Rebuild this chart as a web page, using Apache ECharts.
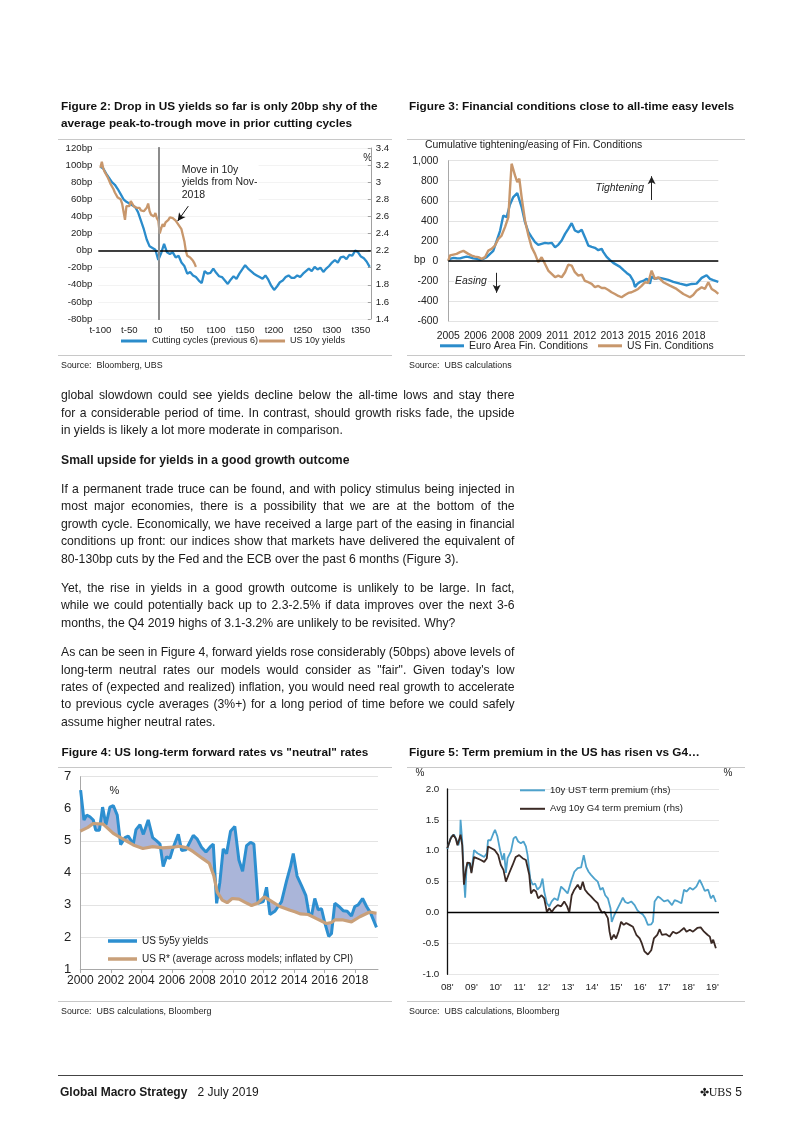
<!DOCTYPE html>
<html><head><meta charset="utf-8">
<script src="https://cdn.jsdelivr.net/npm/echarts@6/dist/echarts.min.js"></script>
<style>
html,body{margin:0;padding:0;background:#fff;}
#page{position:relative;width:802px;height:1133px;overflow:hidden;font-family:'Liberation Sans',Arial,sans-serif;color:#1a1a1a;}
#chart{position:absolute;left:0;top:0;width:802px;height:1133px;}
.t{position:absolute;white-space:nowrap;}
.title{font-weight:bold;font-size:11.8px;line-height:16.6px;color:#111;}
.src{font-size:8.9px;line-height:12px;color:#222;}
.rule{position:absolute;height:0;border-top:1px solid #c8c8c8;}
#body{position:absolute;left:61px;top:387.3px;width:453.5px;font-size:12.2px;line-height:17.4px;color:#1a1a1a;}
#body .l,#body .e{white-space:nowrap;text-align:left;}
#body .h{font-weight:bold;}
#body .gap{height:12px;}
</style></head>
<body>
<div id="page">
<div id="chart"></div>

<div class="t title" style="left:61px;top:98.4px;">Figure 2: Drop in US yields so far is only 20bp shy of the<br>average peak-to-trough move in prior cutting cycles</div>
<div class="t title" style="left:409px;top:98.4px;">Figure 3: Financial conditions close to all-time easy levels</div>
<div class="rule" style="left:58px;top:138.5px;width:334px;"></div>
<div class="rule" style="left:407px;top:138.5px;width:338px;"></div>
<div class="rule" style="left:58px;top:355px;width:334px;"></div>
<div class="rule" style="left:407px;top:355px;width:338px;"></div>
<div class="t src" style="left:61px;top:358.5px;">Source:&nbsp; Bloomberg, UBS</div>
<div class="t src" style="left:409px;top:358.5px;">Source:&nbsp; UBS calculations</div>

<div id="body">
<div class="l">global slowdown could see yields decline below the all-time lows and stay there</div>
<div class="l">for a considerable period of time. In contrast, should growth risks fade, the upside</div>
<div class="e">in yields is likely a lot more moderate in comparison.</div>
<div class="gap"></div>
<div class="e h">Small upside for yields in a good growth outcome</div>
<div class="gap"></div>
<div class="l">If a permanent trade truce can be found, and with policy stimulus being injected in</div>
<div class="l">most major economies, there is a possibility that we are at the bottom of the</div>
<div class="l">growth cycle. Economically, we have received a large part of the easing in financial</div>
<div class="l">conditions up front: our indices show that markets have delivered the equivalent of</div>
<div class="e">80-130bp cuts by the Fed and the ECB over the past 6 months (Figure 3).</div>
<div class="gap"></div>
<div class="l">Yet, the rise in yields in a good growth outcome is unlikely to be large. In fact,</div>
<div class="l">while we could potentially back up to 2.3-2.5% if data improves over the next 3-6</div>
<div class="e">months, the Q4 2019 highs of 3.1-3.2% are unlikely to be revisited. Why?</div>
<div class="gap"></div>
<div class="l">As can be seen in Figure 4, forward yields rose considerably (50bps) above levels of</div>
<div class="l">long-term neutral rates our models would consider as "fair". Given today's low</div>
<div class="l">rates of (expected and realized) inflation, you would need real growth to accelerate</div>
<div class="l">to previous cycle averages (3%+) for a long period of time before we could safely</div>
<div class="e">assume higher neutral rates.</div>
</div>

<div class="t title" style="left:61.5px;top:743.7px;">Figure 4: US long-term forward rates vs "neutral" rates</div>
<div class="t title" style="left:409px;top:743.7px;">Figure 5: Term premium in the US has risen vs G4…</div>
<div class="rule" style="left:58px;top:767px;width:334px;"></div>
<div class="rule" style="left:407px;top:767px;width:338px;"></div>
<div class="rule" style="left:58px;top:1001px;width:334px;"></div>
<div class="rule" style="left:407px;top:1001px;width:338px;"></div>
<div class="t src" style="left:61px;top:1005px;">Source:&nbsp; UBS calculations, Bloomberg</div>
<div class="t src" style="left:409px;top:1005px;">Source:&nbsp; UBS calculations, Bloomberg</div>

<div style="position:absolute;left:58px;top:1075px;width:685px;border-top:1px solid #444;"></div>
<div class="t" style="left:60px;top:1084px;font-size:12px;line-height:16px;"><b>Global Macro Strategy</b>&nbsp;&nbsp; 2 July 2019</div>
<div class="t" style="right:60px;top:1084px;font-size:12px;line-height:16px;"><span style="font-size:11px;">✤</span><span style="font-family:'Liberation Serif',serif;">UBS</span> 5</div>
</div>

<script>
// justify each full body line to the column width
(function () {
  const W = 453.5;
  document.querySelectorAll('#body .l').forEach(el => {
    const span = document.createElement('span');
    span.textContent = el.textContent;
    el.textContent = '';
    el.appendChild(span);
    const natural = span.getBoundingClientRect().width;
    const spaces = (span.textContent.match(/ /g) || []).length;
    if (spaces) span.style.wordSpacing = ((W - natural) / spaces) + 'px';
  });
})();

// ---------- Figure 2 ----------
const fig2TickPos = [-100,-50,0,50,100,150,200,250,300,350];
// cutting cycles average, bp, every 5 days from t-100
const cyclesBp = [98,96,90,85,80,77,72,66,60,57,55,53,51,45,35,25,13,5,3,1,
  -11,-3,8,-2,-4,-2,-8,-6,-14,-18,-27,-25,-29,-31,-35,-38,-24,-27,-26,-21,
  -26,-30,-31,-35,-39,-34,-30,-33,-27,-22,-17,-21,-24,-27,-29,-31,-33,-29,-34,-41,
  -46,-42,-37,-35,-31,-29,-32,-32,-29,-31,-27,-24,-21,-24,-19,-22,-20,-25,-21,-18,
  -14,-11,-14,-8,-7,-10,-5,-6,0,-2,-7,-9,-13,-19];
// US 10y yield (%), every 2.5 days from t-100 (Nov-2018 start)
const us10y = [3.17,3.24,3.16,3.12,3.10,3.06,3.04,2.98,3.00,2.92,2.88,2.86,2.82,2.84,2.80,2.75,2.76,2.56,2.72,2.74,
  2.72,2.78,2.76,2.72,2.74,2.70,2.68,2.70,2.67,2.69,2.66,2.68,2.70,2.75,2.66,2.62,2.63,2.60,2.64,2.58,
  2.55,2.40,2.46,2.51,2.48,2.53,2.52,2.56,2.59,2.60,2.58,2.59,2.55,2.54,2.50,2.48,2.45,2.38,2.31,2.20,
  2.14,2.16,2.12,2.10,2.08,2.05,2.01];

// ---------- Figure 3 ----------
const fig3LabelPos = [2005.27,2006.71,2008.16,2009.60,2011.05,2012.49,2013.94,2015.38,2016.83,2018.27];
const fig3Labels = ['2005','2006','2008','2009','2011','2012','2013','2015','2016','2018'];
const euroFci = [[2005.27,0],[2005.36,20],[2005.54,30],[2005.71,27],[2005.89,25],[2006.07,35],[2006.24,43],[2006.42,35],[2006.59,25],[2006.77,20],[2006.95,10],[2007.12,20],[2007.30,37],[2007.48,70],[2007.65,100],[2007.83,200],[2008.01,300],[2008.18,453],[2008.36,437],[2008.53,560],[2008.71,637],[2008.92,677],[2009.15,537],[2009.33,387],[2009.51,287],[2009.68,237],[2009.86,187],[2010.03,160],[2010.21,170],[2010.39,180],[2010.56,175],[2010.74,180],[2010.92,137],[2011.09,160],[2011.27,203],[2011.45,270],[2011.62,320],[2011.80,377],[2011.97,303],[2012.15,287],[2012.33,310],[2012.50,237],[2012.68,153],[2012.86,140],[2013.03,130],[2013.21,107],[2013.39,120],[2013.47,90],[2013.65,40],[2013.83,7],[2014.00,-20],[2014.18,-40],[2014.36,-60],[2014.53,-90],[2014.71,-120],[2014.88,-143],[2015.06,-200],[2015.15,-260],[2015.27,-230],[2015.41,-210],[2015.59,-200],[2015.77,-177],[2015.94,-227],[2016.03,-157],[2016.21,-180],[2016.29,-193],[2016.47,-170],[2016.65,-177],[2016.91,-190],[2017.18,-210],[2017.53,-227],[2017.88,-243],[2018.15,-230],[2018.41,-227],[2018.68,-170],[2018.94,-143],[2019.12,-180],[2019.29,-193],[2019.56,-210]];
const usFci = [[2005.27,0],[2005.36,55],[2005.54,63],[2005.71,70],[2005.89,87],[2006.07,100],[2006.15,110],[2006.33,70],[2006.51,53],[2006.68,43],[2006.86,37],[2007.04,20],[2007.21,37],[2007.39,103],[2007.56,120],[2007.74,153],[2007.92,220],[2008.09,253],[2008.27,337],[2008.45,437],[2008.53,703],[2008.62,970],[2008.71,987],[2008.80,853],[2008.92,787],[2009.03,820],[2009.15,637],[2009.33,403],[2009.51,253],[2009.68,137],[2009.86,70],[2010.03,-13],[2010.21,37],[2010.39,-30],[2010.56,-97],[2010.74,-130],[2010.92,-163],[2011.09,-147],[2011.27,-163],[2011.45,-113],[2011.62,-37],[2011.80,-47],[2011.97,-113],[2012.15,-147],[2012.33,-137],[2012.50,-200],[2012.68,-213],[2012.86,-230],[2013.03,-263],[2013.21,-250],[2013.39,-270],[2013.56,-270],[2013.74,-290],[2013.91,-313],[2014.09,-330],[2014.27,-350],[2014.44,-363],[2014.62,-340],[2014.80,-320],[2014.97,-313],[2015.15,-297],[2015.32,-280],[2015.50,-250],[2015.68,-213],[2015.85,-220],[2016.03,-97],[2016.21,-180],[2016.38,-163],[2016.65,-213],[2017.00,-247],[2017.35,-280],[2017.71,-330],[2018.06,-363],[2018.23,-340],[2018.41,-297],[2018.68,-263],[2018.85,-280],[2019.03,-213],[2019.21,-280],[2019.38,-300],[2019.56,-330]];

// ---------- Figure 4 ----------
const us5y5y = [[2000.02,6.58],[2000.24,5.65],[2000.42,5.8],[2000.63,5.75],[2000.85,5.65],[2001.01,5.33],[2001.25,5.33],[2001.46,6.05],[2001.68,5.5],[2001.94,6.05],[2002.16,6.1],[2002.42,5.8],[2002.64,4.88],[2002.93,5.1],[2003.14,5.15],[2003.47,4.9],[2003.65,5.35],[2003.91,5.5],[2004.13,5.2],[2004.45,5.65],[2004.74,5.1],[2005.0,5.0],[2005.22,4.9],[2005.43,4.2],[2005.65,4.5],[2005.87,4.45],[2006.09,4.8],[2006.42,5.2],[2006.64,4.7],[2006.92,4.72],[2007.4,5.17],[2007.66,5.05],[2007.94,4.8],[2008.23,4.65],[2008.49,4.8],[2008.71,4.9],[2008.93,3.05],[2009.14,3.7],[2009.36,4.75],[2009.58,4.6],[2009.84,5.3],[2010.12,5.45],[2010.39,4.4],[2010.63,4.05],[2010.89,4.85],[2011.15,4.95],[2011.37,4.9],[2011.65,3.05],[2011.98,3.1],[2012.2,3.55],[2012.42,2.7],[2012.74,2.8],[2012.96,2.95],[2013.18,3.1],[2013.51,3.75],[2013.77,4.2],[2013.95,4.6],[2014.2,3.9],[2014.49,3.6],[2014.77,3.3],[2014.97,2.75],[2015.14,2.65],[2015.36,3.2],[2015.58,2.85],[2015.8,2.88],[2016.01,2.45],[2016.27,2.02],[2016.45,2.1],[2016.67,3.05],[2016.95,2.95],[2017.22,2.82],[2017.48,2.8],[2017.76,2.65],[2017.98,2.95],[2018.2,3.0],[2018.49,3.2],[2018.75,2.95],[2019.01,2.75],[2019.4,2.3]];
const usRStar = [[2000.0,5.3],[2000.5,5.42],[2000.85,5.54],[2001.5,5.52],[2002.16,5.23],[2002.8,5.05],[2003.47,4.87],[2004.1,4.76],[2004.74,4.82],[2005.4,4.78],[2006.09,4.8],[2006.5,4.83],[2007.0,4.78],[2007.4,4.66],[2008.0,4.45],[2008.45,4.3],[2008.75,3.9],[2008.97,3.4],[2009.3,3.15],[2009.62,3.07],[2009.95,3.2],[2010.4,3.18],[2010.8,3.08],[2011.22,2.98],[2011.6,3.05],[2012.05,3.25],[2012.4,3.15],[2013.07,2.95],[2013.7,2.84],[2014.1,2.78],[2014.4,2.72],[2014.93,2.7],[2015.47,2.57],[2016.12,2.42],[2016.45,2.45],[2016.67,2.53],[2017.22,2.53],[2017.76,2.47],[2018.31,2.63],[2018.96,2.78],[2019.4,2.74]];

// ---------- Figure 5 ----------
const ustTermPremium = [[2008.00,1.03],[2008.07,1.12],[2008.17,1.23],[2008.28,1.26],[2008.39,1.17],[2008.46,1.09],[2008.53,1.2],[2008.55,1.5],[2008.62,1.15],[2008.69,0.55],[2008.74,0.24],[2008.80,0.74],[2008.90,0.81],[2009.00,0.66],[2009.11,1.01],[2009.25,0.96],[2009.39,0.93],[2009.53,0.9],[2009.64,0.96],[2009.69,1.17],[2009.80,1.17],[2009.91,1.28],[2009.98,1.34],[2010.08,1.23],[2010.19,1.01],[2010.29,0.85],[2010.36,0.96],[2010.43,0.64],[2010.50,0.88],[2010.64,0.99],[2010.75,1.2],[2010.84,1.23],[2010.94,1.15],[2011.05,1.12],[2011.16,1.15],[2011.26,1.07],[2011.33,0.93],[2011.44,0.55],[2011.54,0.45],[2011.64,0.47],[2011.74,0.37],[2011.86,0.42],[2011.95,0.55],[2012.02,0.34],[2012.13,0.15],[2012.23,0.1],[2012.33,0.18],[2012.44,0.23],[2012.58,0.2],[2012.72,0.42],[2012.85,0.37],[2012.99,0.31],[2013.13,0.5],[2013.27,0.66],[2013.41,0.72],[2013.55,0.73],[2013.66,0.93],[2013.76,0.74],[2013.86,0.66],[2013.96,0.61],[2014.10,0.55],[2014.24,0.5],[2014.35,0.37],[2014.45,0.4],[2014.55,0.28],[2014.66,0.23],[2014.77,0.07],[2014.82,-0.15],[2014.93,-0.04],[2015.07,0.07],[2015.21,0.18],[2015.28,0.24],[2015.38,0.17],[2015.49,0.15],[2015.63,0.18],[2015.77,0.12],[2015.88,0.04],[2015.98,0.0],[2016.11,-0.03],[2016.21,-0.09],[2016.32,-0.2],[2016.46,-0.19],[2016.53,-0.15],[2016.60,0.18],[2016.74,0.26],[2016.85,0.23],[2016.99,0.18],[2017.15,0.2],[2017.32,0.12],[2017.43,0.2],[2017.57,0.18],[2017.71,0.15],[2017.82,0.37],[2017.92,0.34],[2018.06,0.4],[2018.19,0.37],[2018.33,0.42],[2018.47,0.53],[2018.57,0.45],[2018.68,0.35],[2018.82,0.37],[2018.93,0.23],[2019.03,0.28],[2019.14,0.17]];
const g4TermPremium = [[2008.00,1.04],[2008.14,1.2],[2008.25,1.26],[2008.35,1.2],[2008.42,1.09],[2008.49,1.12],[2008.55,1.26],[2008.62,1.09],[2008.69,0.45],[2008.76,0.66],[2008.83,0.81],[2008.94,0.8],[2009.00,0.64],[2009.11,0.9],[2009.22,0.88],[2009.39,0.85],[2009.53,0.82],[2009.64,0.88],[2009.69,1.07],[2009.83,1.04],[2009.97,1.01],[2010.11,0.93],[2010.22,0.77],[2010.33,0.69],[2010.43,0.5],[2010.57,0.64],[2010.71,0.77],[2010.84,0.9],[2010.98,0.93],[2011.12,0.88],[2011.26,0.85],[2011.40,0.61],[2011.47,0.31],[2011.58,0.37],[2011.68,0.34],[2011.77,0.23],[2011.91,0.28],[2012.02,0.23],[2012.13,0.01],[2012.23,0.07],[2012.33,0.01],[2012.44,0.07],[2012.58,0.12],[2012.72,0.1],[2012.85,0.18],[2012.97,0.1],[2013.06,0.0],[2013.16,0.28],[2013.27,0.37],[2013.41,0.45],[2013.52,0.37],[2013.62,0.5],[2013.71,0.37],[2013.83,0.31],[2013.96,0.26],[2014.10,0.2],[2014.24,0.15],[2014.31,0.07],[2014.41,0.0],[2014.52,0.01],[2014.66,-0.09],[2014.73,-0.31],[2014.80,-0.44],[2014.91,-0.36],[2015.00,-0.42],[2015.10,-0.31],[2015.21,-0.15],[2015.32,-0.2],[2015.42,-0.17],[2015.56,-0.2],[2015.70,-0.23],[2015.84,-0.36],[2015.98,-0.42],[2016.07,-0.5],[2016.18,-0.63],[2016.32,-0.68],[2016.46,-0.61],[2016.57,-0.42],[2016.71,-0.36],[2016.81,-0.27],[2016.90,-0.36],[2017.08,-0.35],[2017.22,-0.39],[2017.36,-0.31],[2017.50,-0.34],[2017.64,-0.31],[2017.82,-0.25],[2017.92,-0.31],[2018.06,-0.28],[2018.19,-0.31],[2018.37,-0.25],[2018.51,-0.24],[2018.65,-0.31],[2018.79,-0.36],[2018.89,-0.39],[2018.96,-0.5],[2019.03,-0.44],[2019.14,-0.58]];

// ---------- chart ----------
const FONT = "'Liberation Sans', Arial, sans-serif";
const BLUE = '#2b8ccb', TAN = '#c8976c';
const chart = echarts.init(document.getElementById('chart'), null, {renderer:'canvas', width:802, height:1133});

const cyclesData = cyclesBp.map((v, i) => [-100 + 5 * i, v]);
const us10yData = us10y.map((v, i) => [-100 + 2.5 * i, v]);

function ax(o) { return Object.assign({type:'value', axisLine:{show:false}, axisTick:{show:false}, splitLine:{show:false}}, o); }
const noEm = {disabled:true};

const option = {
  animation:false,
  textStyle:{fontFamily:FONT, color:'#222'},
  grid:[
    {left:98.3, top:148, width:272.5, height:171, containLabel:false, outerBoundsMode:'none'},
    {left:448.3, top:160.7, width:270, height:160.3, containLabel:false, outerBoundsMode:'none'},
    {left:80.3, top:776.7, width:297.7, height:192.3, containLabel:false, outerBoundsMode:'none'},
    {left:447.3, top:789, width:271.7, height:185.3, containLabel:false, outerBoundsMode:'none'}
  ],
  xAxis:[
    ax({gridIndex:0, min:-103.6, max:367,
      axisLabel:{customValues:fig2TickPos, formatter:v => 't' + v, fontSize:9.6, color:'#222', margin:6, hideOverlap:false}}),
    ax({gridIndex:1, min:2005.27, max:2019.56,
      axisLabel:{customValues:fig3LabelPos, fontSize:10.4, color:'#222', margin:10, hideOverlap:false,
        formatter:v => { let b = 0; fig3LabelPos.forEach((p, i) => { if (Math.abs(p - v) < Math.abs(fig3LabelPos[b] - v)) b = i; }); return fig3Labels[b]; }}}),
    ax({gridIndex:2, min:2000, max:2019.5, interval:2,
      axisLine:{show:true, lineStyle:{color:'#a8a8a8'}},
      axisTick:{show:true, length:4, lineStyle:{color:'#a8a8a8'}},
      axisLabel:{fontSize:12, color:'#222', margin:6, showMinLabel:true, showMaxLabel:false, hideOverlap:false, formatter:v => String(v)}}),
    ax({gridIndex:3, min:2008, max:2019.27, interval:1,
      axisLabel:{fontSize:9.8, color:'#222', margin:8, showMinLabel:true, showMaxLabel:false, hideOverlap:false, formatter:v => String(v).slice(2) + "'"}})
  ],
  yAxis:[
    ax({gridIndex:0, position:'left', min:-80, max:120, interval:20,
      axisLine:{show:true, lineStyle:{color:'#000', width:1.5}},
      axisLabel:{formatter:'{value}bp', fontSize:9.6, color:'#222', margin:6},
      splitLine:{show:true, lineStyle:{color:'#f3f3f3'}}}),
    ax({gridIndex:0, position:'right', min:1.4, max:3.4, interval:0.2,
      axisLine:{show:true, lineStyle:{color:'#a0a0a0'}},
      axisTick:{show:true, inside:true, length:3, lineStyle:{color:'#a0a0a0'}},
      axisLabel:{fontSize:9.6, color:'#222', margin:5, formatter:v => String(Math.round(v * 10) / 10)}}),
    ax({gridIndex:1, min:-600, max:1000, interval:200,
      axisLine:{show:true, lineStyle:{color:'#a8a8a8'}},
      axisLabel:{fontSize:10.4, color:'#222', margin:10, formatter:v => v.toLocaleString('en-US')},
      splitLine:{show:true, lineStyle:{color:'#e3e3e3'}}}),
    ax({gridIndex:2, min:1, max:7, interval:1,
      axisLine:{show:true, lineStyle:{color:'#a8a8a8'}},
      axisLabel:{fontSize:13, color:'#222', margin:9},
      splitLine:{show:true, lineStyle:{color:'#e3e3e3'}}}),
    ax({gridIndex:3, min:-1, max:2, interval:0.5,
      axisLine:{show:true, lineStyle:{color:'#111', width:1.3}},
      axisLabel:{fontSize:9.8, color:'#222', margin:8, formatter:v => v.toFixed(1)},
      splitLine:{show:true, lineStyle:{color:'#e6e6e6'}}})
  ],
  legend:[
    {data:['Cutting cycles (previous 6)', 'US 10y yields'], left:121, top:336.5, padding:0,
      icon:'rect', itemWidth:26, itemHeight:3, itemGap:1, selectedMode:false,
      textStyle:{fontSize:9, color:'#222', fontFamily:FONT}},
    {data:['Euro Area Fin. Conditions', 'US Fin. Conditions'], left:440, top:340.8, padding:0,
      icon:'rect', itemWidth:24, itemHeight:3, itemGap:10, selectedMode:false,
      textStyle:{fontSize:10.4, color:'#222', fontFamily:FONT}},
    {data:['US 5y5y yields', 'US R* (average across models; inflated by CPI)'], orient:'vertical', left:108, top:936, padding:0,
      icon:'rect', itemWidth:29, itemHeight:3.5, itemGap:8, selectedMode:false,
      textStyle:{fontSize:10, color:'#222', fontFamily:FONT}},
    {data:['10y UST term premium (rhs)', 'Avg 10y G4 term premium (rhs)'], orient:'vertical', left:520, top:785.3, padding:0,
      icon:'rect', itemWidth:25, itemHeight:2, itemGap:8.5, selectedMode:false,
      textStyle:{fontSize:9.5, color:'#222', fontFamily:FONT}}
  ],
  graphic:[
    {type:'text', x:367.7, y:158, silent:true, style:{text:'%', fontSize:10, fontFamily:FONT, fill:'#222', align:'center', verticalAlign:'middle'}},
    {type:'text', x:180.7, y:163, silent:true, z:10, style:{text:'Move in 10y\nyields from Nov-\n2018', fontSize:10.5, lineHeight:12.3, fontFamily:FONT, fill:'#222', backgroundColor:'#fff', padding:[1,1,1,1]}},
    {type:'text', x:425, y:145, silent:true, style:{text:'Cumulative tightening/easing of Fin. Conditions', fontSize:10.4, fontFamily:FONT, fill:'#222', verticalAlign:'middle'}},
    {type:'text', x:414, y:260.5, silent:true, style:{text:'bp', fontSize:10.4, fontFamily:FONT, fill:'#222', verticalAlign:'middle'}},
    {type:'text', x:594.5, y:188, silent:true, z:10, style:{text:'Tightening', fontSize:10.4, fontStyle:'italic', fontFamily:FONT, fill:'#222', verticalAlign:'middle', backgroundColor:'#fff', padding:[1,1,1,1]}},
    {type:'text', x:454, y:281, silent:true, z:10, style:{text:'Easing', fontSize:10.4, fontStyle:'italic', fontFamily:FONT, fill:'#222', verticalAlign:'middle', backgroundColor:'#fff', padding:[1,1,1,1]}},
    {type:'text', x:114.3, y:791, silent:true, style:{text:'%', fontSize:11, fontFamily:FONT, fill:'#222', align:'center', verticalAlign:'middle'}},
    {type:'text', x:420, y:773.3, silent:true, style:{text:'%', fontSize:10, fontFamily:FONT, fill:'#222', align:'center', verticalAlign:'middle'}},
    {type:'text', x:728, y:773.3, silent:true, style:{text:'%', fontSize:10, fontFamily:FONT, fill:'#222', align:'center', verticalAlign:'middle'}}
  ],
  series:[
    // Figure 2
    {name:'Cutting cycles (previous 6)', type:'line', xAxisIndex:0, yAxisIndex:0, data:cyclesData,
      symbol:'none', color:BLUE, lineStyle:{width:2.3}, z:3, emphasis:noEm,
      markLine:{silent:true, symbol:'none', label:{show:false}, emphasis:noEm, animation:false,
        data:[{yAxis:0, lineStyle:{color:'#000', width:1.5, type:'solid'}},
              {xAxis:0, lineStyle:{color:'#a6a6a6', width:1.5, type:'solid'}}]}},
    {name:'US 10y yields', type:'line', xAxisIndex:0, yAxisIndex:1, data:us10yData,
      symbol:'none', color:TAN, lineStyle:{width:2.3}, z:4, emphasis:noEm,
      markLine:{silent:true, symbol:['none','arrow'], symbolSize:[6,8], label:{show:false}, emphasis:noEm, animation:false,
        lineStyle:{color:'#111', width:1, type:'solid'},
        data:[[{coord:[51.8, 2.72]}, {coord:[33.5, 2.545]}]]}},
    // Figure 3
    {name:'Euro Area Fin. Conditions', type:'line', xAxisIndex:1, yAxisIndex:2, data:euroFci,
      symbol:'none', color:BLUE, lineStyle:{width:2.4}, z:3, emphasis:noEm,
      markLine:{silent:true, symbol:'none', label:{show:false}, emphasis:noEm, animation:false,
        data:[{yAxis:0, lineStyle:{color:'#000', width:1.5, type:'solid'}}]}},
    {name:'US Fin. Conditions', type:'line', xAxisIndex:1, yAxisIndex:2, data:usFci,
      symbol:'none', color:TAN, lineStyle:{width:2.4}, z:4, emphasis:noEm,
      markLine:{silent:true, symbol:['none','arrow'], symbolSize:[6,8], label:{show:false}, emphasis:noEm, animation:false,
        lineStyle:{color:'#222', width:1, type:'solid'},
        data:[[{coord:[2016.03, 608]}, {coord:[2016.03, 845]}],
              [{coord:[2007.83, -119]}, {coord:[2007.83, -318]}]]}},
    // Figure 4 shaded gap between the two lines
    {type:'custom', xAxisIndex:2, yAxisIndex:3, data:[[2010, 4]], silent:true, z:1,
      renderItem:(params, api) => {
        const pts = us5y5y.map(p => api.coord(p)).concat(usRStar.slice().reverse().map(p => api.coord(p)));
        return {type:'polygon', shape:{points:pts}, style:{fill:'#aab5d9', stroke:null}};
      }},
    {name:'US 5y5y yields', type:'line', xAxisIndex:2, yAxisIndex:3, data:us5y5y,
      symbol:'none', color:'#2d8fd0', lineStyle:{width:3}, z:3, emphasis:noEm},
    {name:'US R* (average across models; inflated by CPI)', type:'line', xAxisIndex:2, yAxisIndex:3, data:usRStar,
      symbol:'none', color:'#c9a07a', lineStyle:{width:3.2}, z:4, emphasis:noEm},
    // Figure 5
    {name:'10y UST term premium (rhs)', type:'line', xAxisIndex:3, yAxisIndex:4, data:ustTermPremium,
      symbol:'none', color:'#4ea2cc', lineStyle:{width:1.8}, z:3, emphasis:noEm,
      markLine:{silent:true, symbol:'none', label:{show:false}, emphasis:noEm, animation:false,
        data:[{yAxis:0, lineStyle:{color:'#000', width:1.3, type:'solid'}}]}},
    {name:'Avg 10y G4 term premium (rhs)', type:'line', xAxisIndex:3, yAxisIndex:4, data:g4TermPremium,
      symbol:'none', color:'#3b2a25', lineStyle:{width:1.8}, z:4, emphasis:noEm}
  ]
};
chart.setOption(option);
</script>
</body></html>
